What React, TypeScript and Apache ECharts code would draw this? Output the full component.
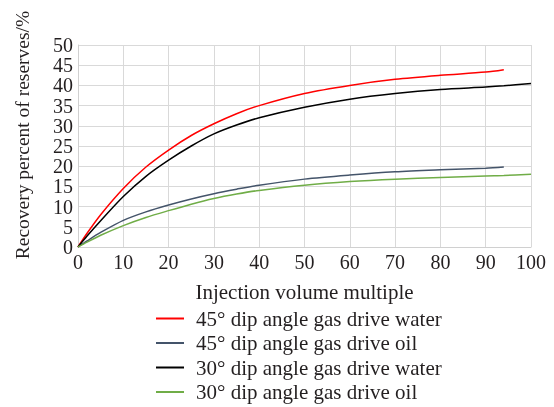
import React, { useEffect, useRef } from "react";
import * as echarts from "echarts";

const xValues = [0, 2, 5, 10, 15, 20, 25, 30, 35, 40, 50, 60, 70, 80, 90, 94, 100];
const red45Water = [0, 3.4, 8, 14.5, 19.8, 24, 27.6, 30.5, 33, 35, 38, 40, 41.5, 42.5, 43.3, 43.9];
const blue45Oil = [0, 1.5, 3.6, 6.6, 8.7, 10.4, 11.9, 13.2, 14.3, 15.3, 16.8, 17.8, 18.6, 19.1, 19.5, 19.8];
const black30Water = [0, 2.7, 6.5, 12.5, 17.5, 21.5, 25, 28, 30.2, 32, 34.6, 36.6, 38, 39, 39.6, 39.9, 40.5];
const green30Oil = [0, 1.2, 2.9, 5.3, 7.3, 9, 10.6, 12, 13.1, 14, 15.3, 16.2, 16.8, 17.2, 17.6, 17.7, 18];

const names = [
  "45° dip angle gas drive water",
  "45° dip angle gas drive oil",
  "30° dip angle gas drive water",
  "30° dip angle gas drive oil",
];
const colors = ["#ff0000", "#44546a", "#000000", "#70ad47"];
const seriesData = [red45Water, blue45Oil, black30Water, green30Oil];

const FONT = "'Liberation Serif', 'Times New Roman', serif";
const TXT = "#231f20";

export default function App() {
  const ref = useRef<HTMLDivElement>(null);
  useEffect(() => {
    if (!ref.current) return;
    const chart = echarts.init(ref.current, undefined, { renderer: "svg" });
    chart.setOption({
      animation: false,
      textStyle: { fontFamily: FONT },
      grid: { left: 78, right: 23, top: 45, bottom: 160 },
      legend: {
        orient: "vertical",
        left: 151,
        top: 303,
        height: 104,
        icon: "rect",
        itemWidth: 28,
        itemHeight: 2,
        itemGap: 3.5,
        textStyle: { fontFamily: FONT, fontSize: 21, color: TXT, padding: [0, 0, 0, 7] },
        data: names,
      },
      xAxis: {
        type: "value",
        min: 0,
        max: 100,
        interval: 10,
        name: "Injection volume multiple",
        nameLocation: "middle",
        nameGap: 34,
        nameTextStyle: { fontFamily: FONT, fontSize: 21, color: TXT },
        axisLine: { show: true, lineStyle: { color: "#d0d0d0", width: 1 } },
        axisTick: { show: false },
        axisLabel: { fontFamily: FONT, fontSize: 20, color: TXT, margin: 5 },
        splitLine: { show: true, lineStyle: { color: "#d9d9d9", width: 1 } },
      },
      yAxis: {
        type: "value",
        min: 0,
        max: 50,
        interval: 5,
        name: "Recovery percent of reserves/%",
        nameLocation: "middle",
        nameGap: 46,
        nameTextStyle: { fontFamily: FONT, fontSize: 19.5, color: TXT, padding: [0, 0, 0, 22] },
        axisLine: { show: true, lineStyle: { color: "#d0d0d0", width: 1 } },
        axisTick: { show: false },
        axisLabel: { fontFamily: FONT, fontSize: 20, color: TXT, margin: 5 },
        splitLine: { show: true, lineStyle: { color: "#d9d9d9", width: 1 } },
      },
      series: names.map((n, i) => ({
        name: n,
        type: "line",
        smooth: 0.3,
        symbol: "none",
        color: colors[i],
        lineStyle: { color: colors[i], width: 1.5 },
        data: seriesData[i].map((v, j) => [xValues[j], v]),
      })),
    });
    return () => chart.dispose();
  }, []);
  return (
    <div
      ref={ref}
      style={{ position: "fixed", left: 0, top: 0, width: 554, height: 407 }}
    />
  );
}
